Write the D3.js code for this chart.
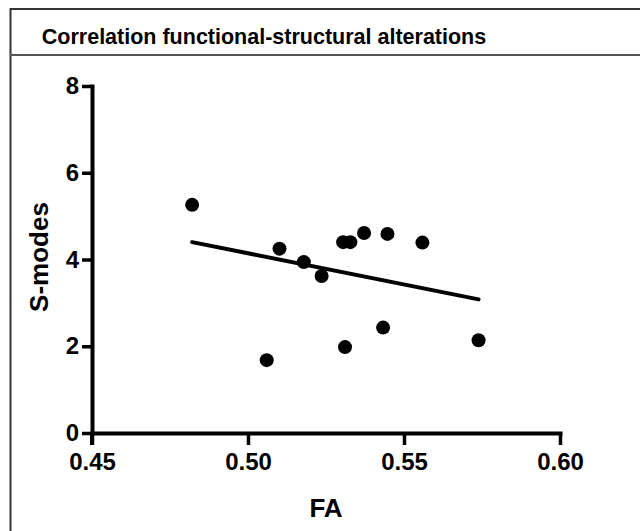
<!DOCTYPE html>
<html>
<head>
<meta charset="utf-8">
<script src="https://cdn.jsdelivr.net/npm/d3@7"></script>
<style>
  body { margin: 0; background: #fff; }
  text { font-family: "Liberation Sans", Arial, sans-serif; font-weight: bold; fill: #000; }
</style>
</head>
<body>
<div id="chart"></div>
<script>
// data
var faValues = [0.4821, 0.5101, 0.5179, 0.5236, 0.5305, 0.5328, 0.5372, 0.5447, 0.5559, 0.5060, 0.5311, 0.5433, 0.5739];
var sModes   = [5.26, 4.25, 3.94, 3.62, 4.40, 4.40, 4.61, 4.59, 4.39, 1.68, 1.98, 2.43, 2.14];
var fitX = [0.4821, 0.5739];
var fitY = [4.40, 3.08];
var xTicks = [0.45, 0.50, 0.55, 0.60];
var yTicks = [0, 2, 4, 6, 8];

var width = 640, height = 531;
var m = [86, 80, 98, 92]; // top right bottom left

var svg = d3.select("#chart").append("svg")
  .attr("width", width)
  .attr("height", height);

// frame + title band
svg.append("rect")
  .attr("x", 10.5).attr("y", 9)
  .attr("width", 700).attr("height", 600)
  .attr("fill", "none")
  .attr("stroke", "#333")
  .attr("stroke-width", 2);

svg.append("line")
  .attr("x1", 10).attr("x2", 700)
  .attr("y1", 55).attr("y2", 55)
  .attr("stroke", "#555")
  .attr("stroke-width", 2);

svg.append("text")
  .attr("x", 264).attr("y", 44)
  .attr("text-anchor", "middle")
  .attr("font-size", 21.5)
  .text("Correlation functional-structural alterations");

var x = d3.scaleLinear()
  .domain([0.45, 0.60])
  .range([m[3], width - m[1]]);

var y = d3.scaleLinear()
  .domain([0, 8])
  .range([height - m[2], m[0]]);

var g = svg.append("g");

var xAxis = d3.axisBottom(x)
  .tickValues(xTicks)
  .tickFormat(d3.format(".2f"))
  .tickSize(12)
  .tickSizeOuter(0)
  .tickPadding(8);

var yAxis = d3.axisLeft(y)
  .tickValues(yTicks)
  .tickFormat(d3.format("d"))
  .tickSize(10)
  .tickSizeOuter(0)
  .tickPadding(3);

var gx = g.append("g")
  .attr("transform", "translate(0," + y(0) + ")")
  .call(xAxis);

var gy = g.append("g")
  .attr("transform", "translate(" + x(0.45) + ",0)")
  .call(yAxis);

[gx, gy].forEach(function(a) {
  a.attr("font-family", null);
  a.select(".domain").attr("stroke", "#000").attr("stroke-width", 4).attr("stroke-linecap", "square");
  a.selectAll(".tick line").attr("stroke", "#000").attr("stroke-width", 3.5);
  a.selectAll(".tick text").attr("font-size", 24).attr("fill", "#000");
});

// y axis runs down past the x axis like the 0.45 tick
gy.append("line")
  .attr("x1", 0).attr("x2", 0)
  .attr("y1", y(0)).attr("y2", y(0) + 12)
  .attr("stroke", "#000").attr("stroke-width", 4);

// axis titles
svg.append("text")
  .attr("x", (x.range()[0] + x.range()[1]) / 2)
  .attr("y", 517)
  .attr("text-anchor", "middle")
  .attr("font-size", 26)
  .text("FA");

svg.append("text")
  .attr("transform", "translate(48," + 257 + ") rotate(-90)")
  .attr("text-anchor", "middle")
  .attr("font-size", 26)
  .text("S-modes");

// regression line
svg.append("line")
  .attr("x1", x(fitX[0])).attr("y1", y(fitY[0]))
  .attr("x2", x(fitX[1])).attr("y2", y(fitY[1]))
  .attr("stroke", "#000")
  .attr("stroke-width", 4)
  .attr("stroke-linecap", "round");

// points
svg.append("g").selectAll("circle")
  .data(faValues)
  .enter().append("circle")
  .attr("cx", function(d) { return x(d); })
  .attr("cy", function(d, i) { return y(sModes[i]); })
  .attr("r", 7)
  .attr("fill", "#000");
</script>
</body>
</html>
